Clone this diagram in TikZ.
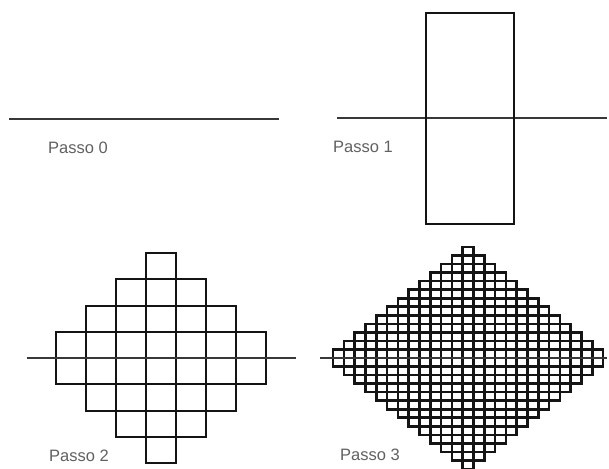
\documentclass[tikz,border=0pt]{standalone}
\usepackage{fontspec}
\setmainfont{Liberation Sans}
\begin{document}
\begin{tikzpicture}[x=1pt,y=-1pt,
  lbl/.style={anchor=west,inner sep=0pt,text=black!62,font=\fontsize{16.5}{16.5}\selectfont},
  axisline/.style={line width=2pt,draw=black!78},
  cellA/.style={line width=2pt,draw=black!92},
  cellB/.style={line width=2.6pt,draw=black!92}]
\clip (0,0) rectangle (609,468);
\fill[white] (0,0) rectangle (609,468);

% Passo 0
\coordinate (a0l) at (9,119);
\coordinate (a0r) at (279,119);
\draw[axisline] (a0l) -- (a0r);
\node[lbl] (p0) at (48,148) {Passo 0};

% Passo 1
\coordinate (a1l) at (337,118);
\coordinate (a1r) at (607,118);
\draw[axisline] (a1l) -- (a1r);
\draw[cellA] (426,13) rectangle (514,224);
\node[lbl] (p1) at (333,147) {Passo 1};

% Passo 2
\coordinate (a2l) at (27,358);
\coordinate (a2r) at (296,358);
\foreach \k in {-3,...,3}{
  \pgfmathtruncatemacro{\n}{4-abs(\k)}
  \foreach \r in {1,...,\n}{
    \draw[cellA] ({161+30*\k-15},{358-26.25*\r}) rectangle ++(30,26.25);
    \draw[cellA] ({161+30*\k-15},{358+26.25*(\r-1)}) rectangle ++(30,26.25);
  }
}
\draw[axisline] (a2l) -- (a2r);
\node[lbl] (p2) at (49,456) {Passo 2};

% Passo 3
\coordinate (a3l) at (320,358);
\coordinate (a3r) at (607,358);
\foreach \k in {-12,...,12}{
  \pgfmathtruncatemacro{\n}{13-abs(\k)}
  \foreach \r in {1,...,\n}{
    \draw[cellB] ({468+10.8*\k-5.4},{358-8.54*\r}) rectangle ++(10.8,8.54);
    \draw[cellB] ({468+10.8*\k-5.4},{358+8.54*(\r-1)}) rectangle ++(10.8,8.54);
  }
}
\draw[axisline] (a3l) -- (a3r);
\node[lbl] (p3) at (340,455) {Passo 3};
\end{tikzpicture}
\end{document}
